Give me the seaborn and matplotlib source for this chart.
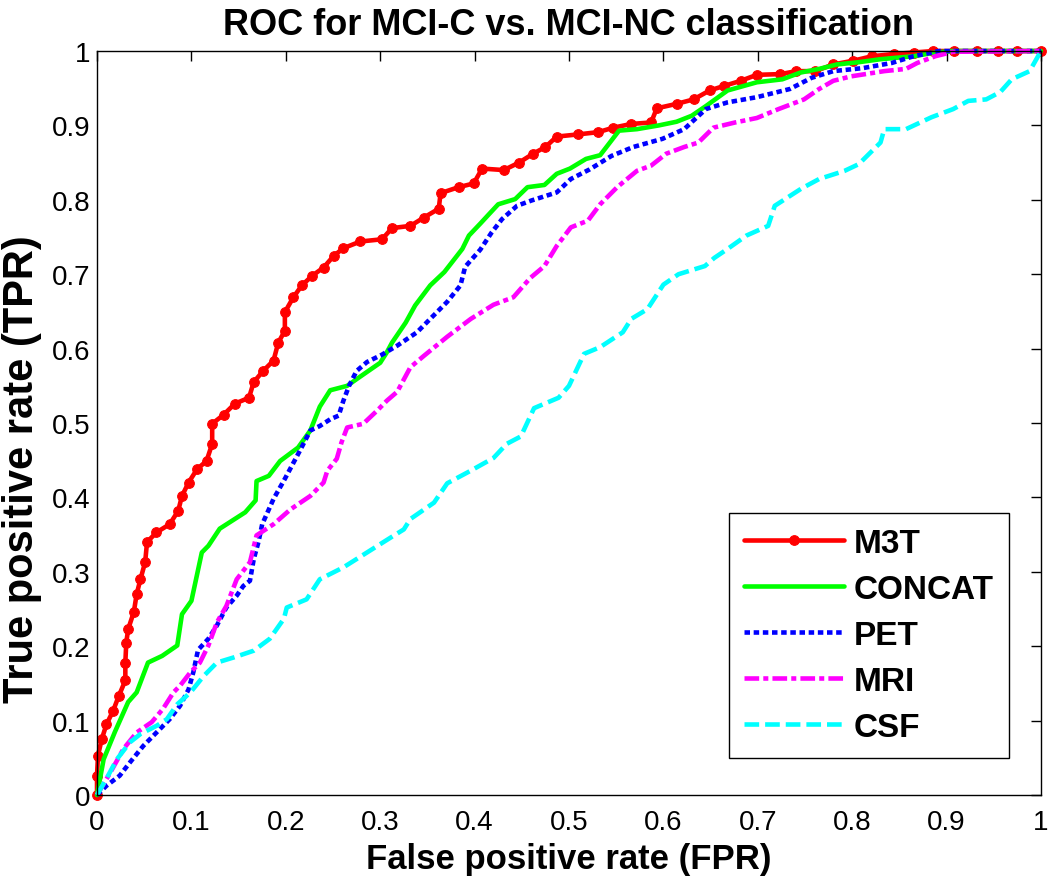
import matplotlib
matplotlib.use("Agg")
import matplotlib.pyplot as plt
import seaborn as sns

# ROC curves (FPR, TPR)
m3t_fpr = [0, 0, 0.001, 0.005, 0.010, 0.017, 0.023, 0.030, 0.030, 0.031, 0.033, 0.039, 0.042, 0.046,
           0.051, 0.053, 0.063, 0.077, 0.086, 0.090, 0.097, 0.106, 0.116, 0.122, 0.122, 0.134, 0.146,
           0.161, 0.166, 0.176, 0.187, 0.192, 0.199, 0.199, 0.208, 0.217, 0.228, 0.240, 0.251, 0.261,
           0.279, 0.302, 0.3125, 0.332, 0.346, 0.362, 0.364, 0.383, 0.399, 0.408, 0.431, 0.447, 0.462,
           0.475, 0.487, 0.510, 0.531, 0.547, 0.566, 0.587, 0.593, 0.614, 0.632, 0.649, 0.664, 0.682,
           0.699, 0.724, 0.741, 0.761, 0.780, 0.801, 0.821, 0.844, 0.865, 0.886, 0.908, 0.932, 0.955,
           0.975, 1.0]
m3t_tpr = [0, 0.026, 0.053, 0.075, 0.095, 0.113, 0.133, 0.154, 0.178, 0.205, 0.223, 0.246, 0.270, 0.290,
           0.313, 0.340, 0.353, 0.364, 0.382, 0.402, 0.420, 0.438, 0.449, 0.472, 0.499, 0.511, 0.526,
           0.534, 0.555, 0.570, 0.584, 0.608, 0.624, 0.649, 0.669, 0.685, 0.698, 0.709, 0.725, 0.735,
           0.744, 0.747, 0.762, 0.765, 0.776, 0.788, 0.809, 0.817, 0.822, 0.842, 0.840, 0.850, 0.862,
           0.871, 0.885, 0.888, 0.891, 0.897, 0.902, 0.904, 0.923, 0.929, 0.935, 0.947, 0.953, 0.960,
           0.968, 0.969, 0.973, 0.973, 0.982, 0.987, 0.993, 0.996, 0.998, 1.0, 1.0, 1.0, 1.0,
           1.0, 1.0]

concat_fpr = [0, 0.007, 0.019, 0.033, 0.042, 0.054, 0.069, 0.085, 0.090, 0.100, 0.111, 0.118, 0.130,
              0.157, 0.168, 0.169, 0.182, 0.194, 0.213, 0.226, 0.236, 0.247, 0.265, 0.275, 0.300, 0.307,
              0.3125, 0.327, 0.337, 0.353, 0.368, 0.387, 0.394, 0.406, 0.414, 0.425, 0.443, 0.456, 0.474,
              0.487, 0.501, 0.518, 0.533, 0.553, 0.572, 0.595, 0.614, 0.630, 0.645, 0.668, 0.699, 0.726,
              0.745, 0.765, 0.784, 0.807, 0.830, 0.865, 0.888, 0.906, 1.0]
concat_tpr = [0, 0.048, 0.085, 0.125, 0.138, 0.178, 0.187, 0.201, 0.243, 0.261, 0.326, 0.335, 0.358,
              0.380, 0.396, 0.422, 0.429, 0.449, 0.467, 0.490, 0.522, 0.544, 0.550, 0.559, 0.581, 0.595,
              0.608, 0.635, 0.658, 0.685, 0.703, 0.734, 0.752, 0.768, 0.779, 0.794, 0.801, 0.817, 0.820,
              0.835, 0.842, 0.855, 0.860, 0.893, 0.895, 0.900, 0.905, 0.913, 0.926, 0.947, 0.958, 0.962,
              0.971, 0.976, 0.982, 0.985, 0.989, 0.993, 0.998, 1.0, 1.0]

pet_fpr = [0, 0.010, 0.024, 0.035, 0.049, 0.063, 0.077, 0.088, 0.097, 0.102, 0.107, 0.118, 0.127,
           0.137, 0.148, 0.155, 0.162, 0.166, 0.171, 0.175, 0.187, 0.199, 0.215, 0.226, 0.236, 0.247,
           0.256, 0.261, 0.267, 0.275, 0.286, 0.302, 0.318, 0.339, 0.353, 0.371, 0.385, 0.390, 0.406,
           0.418, 0.429, 0.445, 0.460, 0.487, 0.502, 0.522, 0.545, 0.568, 0.599, 0.622, 0.645, 0.668,
           0.699, 0.734, 0.757, 0.780, 0.811, 0.842, 0.865, 0.892, 1.0]
pet_tpr = [0, 0.0125, 0.026, 0.044, 0.066, 0.084, 0.102, 0.120, 0.142, 0.165, 0.195, 0.210, 0.228,
           0.252, 0.268, 0.281, 0.288, 0.317, 0.340, 0.364, 0.398, 0.425, 0.463, 0.490, 0.496, 0.505,
           0.510, 0.530, 0.550, 0.570, 0.582, 0.592, 0.604, 0.622, 0.640, 0.663, 0.685, 0.710, 0.733,
           0.756, 0.774, 0.792, 0.799, 0.810, 0.828, 0.841, 0.859, 0.871, 0.882, 0.895, 0.922, 0.931,
           0.938, 0.949, 0.964, 0.973, 0.977, 0.984, 0.993, 1.0, 1.0]

mri_fpr = [0, 0.014, 0.028, 0.042, 0.058, 0.070, 0.081, 0.088, 0.099, 0.109, 0.118, 0.127, 0.137,
           0.148, 0.162, 0.169, 0.187, 0.205, 0.226, 0.240, 0.244, 0.254, 0.259, 0.265, 0.282, 0.297,
           0.307, 0.318, 0.332, 0.346, 0.371, 0.396, 0.420, 0.441, 0.459, 0.474, 0.487, 0.502, 0.520,
           0.533, 0.551, 0.572, 0.587, 0.603, 0.622, 0.637, 0.653, 0.676, 0.699, 0.722, 0.749, 0.765,
           0.780, 0.799, 0.834, 0.857, 0.869, 0.888, 0.907, 1.0]
mri_tpr = [0, 0.030, 0.062, 0.084, 0.098, 0.116, 0.138, 0.147, 0.165, 0.178, 0.201, 0.232, 0.254,
           0.290, 0.313, 0.349, 0.364, 0.384, 0.402, 0.420, 0.436, 0.452, 0.474, 0.494, 0.499, 0.517,
           0.530, 0.542, 0.575, 0.590, 0.616, 0.640, 0.659, 0.669, 0.695, 0.711, 0.738, 0.763, 0.772,
           0.794, 0.817, 0.839, 0.846, 0.862, 0.871, 0.877, 0.897, 0.904, 0.910, 0.922, 0.935, 0.949,
           0.960, 0.966, 0.973, 0.976, 0.984, 0.993, 0.999, 1.0]

csf_fpr = [0, 0.010, 0.021, 0.035, 0.046, 0.063, 0.074, 0.085, 0.099, 0.113, 0.127, 0.145, 0.166,
           0.183, 0.198, 0.201, 0.222, 0.236, 0.261, 0.286, 0.311, 0.325, 0.332, 0.357, 0.371, 0.396,
           0.420, 0.434, 0.449, 0.463, 0.489, 0.500, 0.516, 0.533, 0.557, 0.566, 0.583, 0.600, 0.616,
           0.644, 0.654, 0.668, 0.688, 0.711, 0.718, 0.746, 0.765, 0.792, 0.807, 0.830, 0.834, 0.857,
           0.884, 0.907, 0.923, 0.942, 0.957, 0.969, 0.988, 1.0]
csf_tpr = [0, 0.022, 0.048, 0.071, 0.082, 0.093, 0.102, 0.122, 0.138, 0.160, 0.178, 0.185, 0.194,
           0.210, 0.237, 0.252, 0.263, 0.290, 0.306, 0.326, 0.346, 0.357, 0.371, 0.393, 0.419, 0.436,
           0.453, 0.472, 0.482, 0.520, 0.534, 0.550, 0.593, 0.602, 0.622, 0.640, 0.653, 0.686, 0.700,
           0.711, 0.722, 0.734, 0.752, 0.765, 0.792, 0.815, 0.828, 0.839, 0.848, 0.877, 0.895, 0.895,
           0.911, 0.922, 0.933, 0.935, 0.945, 0.962, 0.973, 1.0]

tick_vals = [0, 0.1, 0.2, 0.3, 0.4, 0.5, 0.6, 0.7, 0.8, 0.9, 1]
tick_labels = ['0', '0.1', '0.2', '0.3', '0.4', '0.5', '0.6', '0.7', '0.8', '0.9', '1']

sns.set_theme(style="white")
plt.rcParams['font.family'] = ['Liberation Sans', 'DejaVu Sans']
plt.rcParams.update({'text.color': 'black', 'axes.labelcolor': 'black',
                     'xtick.color': 'black', 'ytick.color': 'black'})

fig = plt.figure(figsize=(10.5, 8.79), dpi=100)
ax = fig.add_axes([0.0924, 0.0944, 0.899, 0.8464])

curves = [
    ('M3T', m3t_fpr, m3t_tpr, '#ff0000', '-', 'o'),
    ('CONCAT', concat_fpr, concat_tpr, '#00ff00', '-', None),
    ('PET', pet_fpr, pet_tpr, '#0000ff', (0, (1.2, 0.8)), None),
    ('MRI', mri_fpr, mri_tpr, '#ff00ff', (0, (3.2, 0.9, 1.1, 0.9)), None),
    ('CSF', csf_fpr, csf_tpr, '#00ffff', (0, (3.2, 1.3)), None),
]

for name, fx, ty, col, ls, mk in curves:
    sns.lineplot(x=fx, y=ty, ax=ax, color=col, linestyle=ls, lw=3.3,
                 marker=mk, markersize=7, markeredgecolor=col, markerfacecolor=col,
                 estimator=None, sort=False, label=name, clip_on=False)

ax.set_xlim(0, 1)
ax.set_ylim(0, 1)
ax.set_xticks(tick_vals)
ax.set_xticklabels(tick_labels)
ax.set_yticks(tick_vals)
ax.set_yticklabels(tick_labels)
ax.tick_params(direction='in', length=7, width=1, top=True, right=True,
               labelsize=20, colors='black')
ax.tick_params(axis='x', pad=10)
ax.tick_params(axis='y', pad=5)

for sp in ax.spines.values():
    sp.set_visible(True)
    sp.set_color('black')
    sp.set_linewidth(1)

ax.set_title('ROC for MCI-C vs. MCI-NC classification', fontsize=26, fontweight='bold', pad=12)
ax.set_xlabel('False positive rate (FPR)', fontsize=25, fontweight='bold', labelpad=5)
ax.set_ylabel('True positive rate (TPR)', fontsize=30, fontweight='bold')
ax.yaxis.set_label_coords(-0.058, 0.44)

leg = ax.legend(loc='lower right', bbox_to_anchor=(0.966, 0.05), frameon=True, fancybox=False,
                edgecolor='black', framealpha=1, prop={'weight': 'bold', 'size': 24},
                handlelength=3.0, handletextpad=0.3, labelspacing=0.45, borderpad=0.45,
                borderaxespad=0)
leg.get_frame().set_linewidth(1)

fig.savefig('out.png', dpi=100)
